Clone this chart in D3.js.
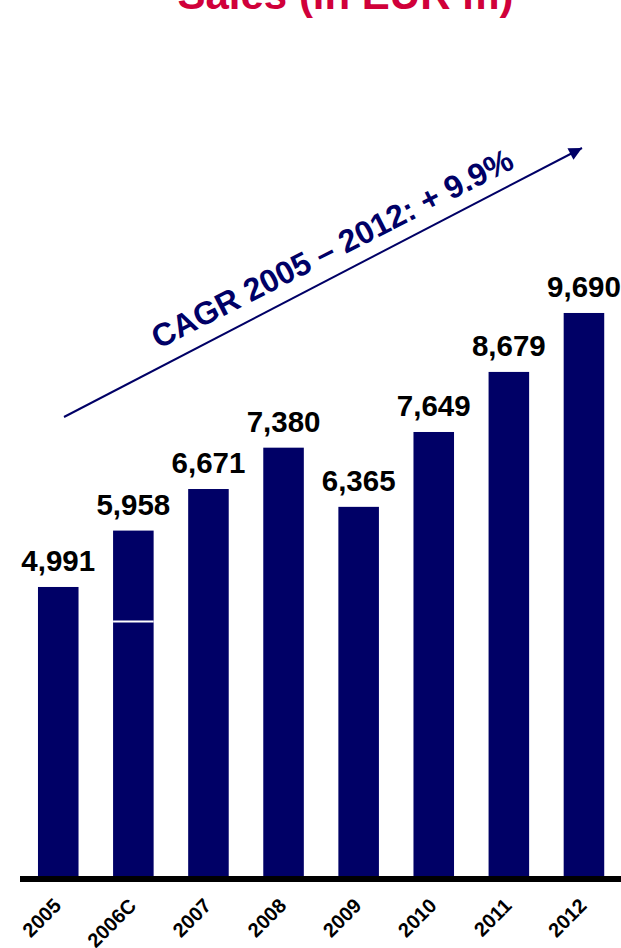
<!DOCTYPE html>
<html>
<head>
<meta charset="utf-8">
<script src="https://cdn.jsdelivr.net/npm/d3@7"></script>
<style>
  html, body { margin: 0; padding: 0; background: #fff; }
  svg { display: block; font-family: Arial, "Liberation Sans", sans-serif; }
</style>
</head>
<body>
<svg id="chart" width="621" height="948"></svg>
<script>
// Sales in EUR m per year
const years = ["2005", "2006C", "2007", "2008", "2009", "2010", "2011", "2012"];
const sales = [4991, 5958, 6671, 7380, 6365, 7649, 8679, 9690];
// 2006C is split into two stacked segments; base portion shown below the white divider
const splitYear = "2006C";
const splitBase = 4400;
const valueLabels = ["4,991", "5,958", "6,671", "7,380", "6,365", "7,649", "8,679", "9,690"];
const titleText = "Sales (in EUR m)";
const cagrText = "CAGR 2005 \u2013 2012: + 9.9%";

const W = 621, H = 948;
const navy = "#000066";
const svg = d3.select("#chart");

const x = d3.scaleBand()
  .domain(years)
  .range([20.7, 621.5])
  .paddingInner(0.46)
  .paddingOuter(0.23);

const y = d3.scaleLinear()
  .domain([0, 10000])
  .range([878, 878 - 10000 * 0.05831]);

// Title (partially above the visible area)
svg.append("text")
  .attr("x", 345.5)
  .attr("y", 9)
  .attr("text-anchor", "middle")
  .attr("font-size", 42)
  .attr("font-weight", "bold")
  .attr("fill", "#d0003a")
  .text(titleText);

// Bars
const data = years.map((yr, i) => ({ yr, v: sales[i], label: valueLabels[i] }));

svg.append("g").selectAll("rect")
  .data(data)
  .join("rect")
  .attr("x", d => x(d.yr))
  .attr("width", x.bandwidth())
  .attr("y", d => y(d.v))
  .attr("height", d => y(0) - y(d.v))
  .attr("fill", navy);

// White divider inside the 2006C bar
svg.append("line")
  .attr("x1", x(splitYear))
  .attr("x2", x(splitYear) + x.bandwidth())
  .attr("y1", y(splitBase))
  .attr("y2", y(splitBase))
  .attr("stroke", "#fff")
  .attr("stroke-width", 2);

// Value labels
svg.append("g").selectAll("text")
  .data(data)
  .join("text")
  .attr("x", d => x(d.yr) + x.bandwidth() / 2)
  .attr("y", d => y(d.v) - 16)
  .attr("text-anchor", "middle")
  .attr("font-size", 29.5)
  .attr("font-weight", "bold")
  .attr("fill", "#000")
  .text(d => d.label);

// Baseline axis
svg.append("line")
  .attr("x1", 20)
  .attr("x2", W)
  .attr("y1", 879)
  .attr("y2", 879)
  .attr("stroke", "#000")
  .attr("stroke-width", 6);

// Category labels, rotated
svg.append("g").selectAll("text")
  .data(years)
  .join("text")
  .attr("transform", d => `translate(${x(d) + x.bandwidth() / 2 + 4},907) rotate(-45)`)
  .attr("text-anchor", "end")
  .attr("font-size", 20)
  .attr("font-weight", "bold")
  .attr("fill", "#000")
  .text(d => d);

// CAGR trend arrow
const defs = svg.append("defs");
defs.append("marker")
  .attr("id", "arrowhead")
  .attr("viewBox", "0 0 10 10")
  .attr("refX", 10)
  .attr("refY", 5)
  .attr("markerUnits", "userSpaceOnUse")
  .attr("markerWidth", 17)
  .attr("markerHeight", 13)
  .attr("orient", "auto")
  .append("path")
  .attr("d", "M0,0 L10,5 L0,10 Z")
  .attr("fill", navy);

svg.append("line")
  .attr("x1", 64)
  .attr("y1", 417)
  .attr("x2", 582)
  .attr("y2", 148)
  .attr("stroke", navy)
  .attr("stroke-width", 2)
  .attr("marker-end", "url(#arrowhead)");

svg.append("text")
  .attr("transform", "translate(332,248) rotate(-27)")
  .attr("text-anchor", "middle")
  .attr("dy", "0.36em")
  .attr("font-size", 32)
  .attr("font-weight", "bold")
  .attr("fill", navy)
  .text(cagrText);
</script>
</body>
</html>
